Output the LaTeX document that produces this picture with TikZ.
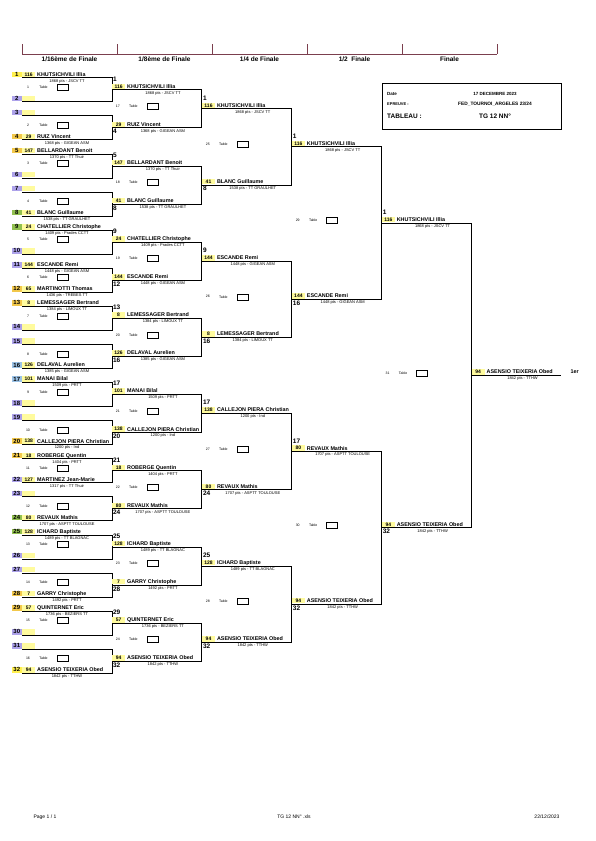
\documentclass[tikz,border=0pt]{standalone}
\usepackage{fontspec}
\setmainfont{Liberation Sans}
\usetikzlibrary{calc,positioning}
\definecolor{seedyellow}{HTML}{FFF04F}
\definecolor{seedviolet}{HTML}{ADA2EA}
\definecolor{seedgold}{HTML}{F2C84B}
\definecolor{seedgreen}{HTML}{92C050}
\definecolor{seedblue}{HTML}{9BC2E6}
\definecolor{ratefill}{HTML}{FFFB9E}
\definecolor{hdrline}{HTML}{7B3F4E}

\begin{document}
\begin{tikzpicture}[x=1pt, y=-1pt,
  bline/.style={line width=0.75pt, black},
  seedbox/.style={fill=#1, minimum width=10pt, minimum height=5.6pt, inner sep=0pt, anchor=south east, yshift=0.4pt, font=\fontsize{6}{6}\selectfont\bfseries},
  ratebox/.style={fill=ratefill, minimum width=13pt, minimum height=5.6pt, inner sep=0pt, anchor=south west, yshift=0.4pt, font=\fontsize{5}{5}\selectfont\bfseries},
  pname/.style={anchor=base west, inner sep=0pt, font=\fontsize{5.4}{5.4}\selectfont\bfseries},
  ppts/.style={anchor=base, inner sep=0pt, font=\fontsize{4}{4}\selectfont},
  slotno/.style={anchor=west, inner sep=0pt, font=\fontsize{6.5}{6.5}\selectfont\bfseries},
  tabtxt/.style={inner sep=0pt, font=\fontsize{3.5}{3.5}\selectfont},
  tabbox/.style={draw, line width=0.5pt, minimum width=11pt, minimum height=6pt, inner sep=0pt},
  colhead/.style={inner sep=0pt, font=\fontsize{6.5}{6.5}\selectfont\bfseries},
  infotxt/.style={inner sep=0pt, font=\fontsize{#1}{#1}\selectfont\bfseries},
  foot/.style={inner sep=0pt, font=\fontsize{5}{5}\selectfont}
]
  \fill[white] (0,0) rectangle (595,841);
  \useasboundingbox (0,0) rectangle (595,841);

  % column headings
  \draw[hdrline, line width=0.6pt] (22,54) -- (497,54);
  \foreach \hx in {22,117,212,307,402,497}
    \draw[hdrline, line width=0.6pt] (\hx,44) -- (\hx,54);
  \foreach \m/\lbl in {0/{1/16ème de Finale},1/{1/8ème de Finale},2/{1/4 de Finale},3/{1/2\ \ Finale},4/Finale}
    \node[colhead] (head\m) at (69.5+95*\m,59) {\lbl};

  % bracket coordinates
  \foreach \e in {0,...,31} {
    \pgfmathsetmacro\yy{77.7+38.1*int(\e/2)+24*mod(\e,2)}
    \coordinate (L1-\e) at (22,\yy);
    \coordinate (R1-\e) at (111.9,\yy);
  }
  \foreach \cc/\nn in {2/15,3/7,4/3,5/1,6/0} {
    \pgfmathtruncatemacro\pc{\cc-1}
    \foreach \e in {0,...,\nn} {
      \pgfmathtruncatemacro\ea{2*\e}
      \pgfmathtruncatemacro\eb{2*\e+1}
      \coordinate (L\cc-\e) at ($(R\pc-\ea)!.5!(R\pc-\eb)$);
      \coordinate (R\cc-\e) at ($(L\cc-\e)+(89.9,0)$);
    }
  }

  % bracket lines and tables
  \foreach \cc/\nn/\tf in {1/15/1,2/7/17,3/3/25,4/1/29,5/0/31} {
    \foreach \pa in {0,...,\nn} {
      \pgfmathtruncatemacro\ea{2*\pa}
      \pgfmathtruncatemacro\eb{2*\pa+1}
      \pgfmathtruncatemacro\tno{\tf+\pa}
      \draw[bline] (L\cc-\ea) -- (R\cc-\ea) -- (R\cc-\eb) -- (L\cc-\eb);
      \coordinate (T\cc-\pa) at ($(L\cc-\ea)!.5!(L\cc-\eb)+(0,-2.5)$);
      \node[tabtxt] (tn\cc-\pa) at ($(T\cc-\pa)+(6,0)$) {\tno};
      \node[tabtxt] (tl\cc-\pa) at ($(T\cc-\pa)+(21.5,0)$) {Table};
      \node[tabbox] (tb\cc-\pa) at ($(T\cc-\pa)+(40.5,0)$) {};
    }
  }
  \draw[bline] (L6-0) -- (R6-0);

  % 1/16 entries
  \foreach \e/\col/\rt/\nm/\pp in {
    0/seedyellow/116/KHUTSICHVILI Illia/1868 pts - JSCV TT,
    1/seedviolet/{}/{}/{},
    2/seedviolet/{}/{}/{},
    3/seedgold/29/RUIZ Vincent/1368 pts - GIGEAN ASM,
    4/seedgold/147/BELLARDANT Benoit/1370 pts - TT Thuir,
    5/seedviolet/{}/{}/{},
    6/seedviolet/{}/{}/{},
    7/seedgreen/41/BLANC Guillaume/1538 pts - TT GRAULHET,
    8/seedgreen/24/CHATELLIER Christophe/1409 pts - Prades CCTT,
    9/seedviolet/{}/{}/{},
    10/seedviolet/144/ESCANDE Remi/1448 pts - GIGEAN ASM,
    11/seedgold/65/MARTINOTTI Thomas/1436 pts - TREBES TT,
    12/seedgold/8/LEMESSAGER Bertrand/1384 pts - LIMOUX TT,
    13/seedviolet/{}/{}/{},
    14/seedviolet/{}/{}/{},
    15/seedblue/126/DELAVAL Aurelien/1385 pts - GIGEAN ASM,
    16/seedblue/101/MANAI Bilal/1509 pts - PRTT,
    17/seedviolet/{}/{}/{},
    18/seedviolet/{}/{}/{},
    19/seedgold/138/CALLEJON PIERA Christian/1200 pts - Ind,
    20/seedgold/18/ROBERGE Quentin/1404 pts - PRTT,
    21/seedviolet/127/MARTINEZ Jean-Marie/1317 pts - TT Thuir,
    22/seedviolet/{}/{}/{},
    23/seedgreen/80/REVAUX Mathis/1707 pts - ASPTT TOULOUSE,
    24/seedgreen/128/ICHARD Baptiste/1489 pts - TT BLAGNAC,
    25/seedviolet/{}/{}/{},
    26/seedviolet/{}/{}/{},
    27/seedgold/7/GARRY Christophe/1492 pts - PRTT,
    28/seedgold/57/QUINTERNET Eric/1736 pts - BEZIERS TT,
    29/seedviolet/{}/{}/{},
    30/seedviolet/{}/{}/{},
    31/seedyellow/94/ASENSIO TEIXERIA Obed/1842 pts - TTHW} {
    \pgfmathtruncatemacro\sn{\e+1}
    \node[seedbox=\col] (s1-\e) at (L1-\e) {\sn};
    \node[ratebox] (r1-\e) at (L1-\e) {\rt};
    \node[pname] (n1-\e) at ($(L1-\e)+(15,-1.6)$) {\nm};
    \node[ppts] (p1-\e) at ($(L1-\e)+(45,4.3)$) {\pp};
  }

  % later rounds
  \foreach \cc/\e/\sl/\rt/\nm/\pp in {
    2/0/1/116/KHUTSICHVILI Illia/1868 pts - JSCV TT,
    2/1/4/29/RUIZ Vincent/1368 pts - GIGEAN ASM,
    2/2/5/147/BELLARDANT Benoit/1370 pts - TT Thuir,
    2/3/8/41/BLANC Guillaume/1538 pts - TT GRAULHET,
    2/4/9/24/CHATELLIER Christophe/1409 pts - Prades CCTT,
    2/5/12/144/ESCANDE Remi/1448 pts - GIGEAN ASM,
    2/6/13/8/LEMESSAGER Bertrand/1384 pts - LIMOUX TT,
    2/7/16/126/DELAVAL Aurelien/1385 pts - GIGEAN ASM,
    2/8/17/101/MANAI Bilal/1509 pts - PRTT,
    2/9/20/138/CALLEJON PIERA Christian/1200 pts - Ind,
    2/10/21/18/ROBERGE Quentin/1404 pts - PRTT,
    2/11/24/80/REVAUX Mathis/1707 pts - ASPTT TOULOUSE,
    2/12/25/128/ICHARD Baptiste/1489 pts - TT BLAGNAC,
    2/13/28/7/GARRY Christophe/1492 pts - PRTT,
    2/14/29/57/QUINTERNET Eric/1736 pts - BEZIERS TT,
    2/15/32/94/ASENSIO TEIXERIA Obed/1842 pts - TTHW,
    3/0/1/116/KHUTSICHVILI Illia/1868 pts - JSCV TT,
    3/1/8/41/BLANC Guillaume/1538 pts - TT GRAULHET,
    3/2/9/144/ESCANDE Remi/1448 pts - GIGEAN ASM,
    3/3/16/8/LEMESSAGER Bertrand/1384 pts - LIMOUX TT,
    3/4/17/138/CALLEJON PIERA Christian/1200 pts - Ind,
    3/5/24/80/REVAUX Mathis/1707 pts - ASPTT TOULOUSE,
    3/6/25/128/ICHARD Baptiste/1489 pts - TT BLAGNAC,
    3/7/32/94/ASENSIO TEIXERIA Obed/1842 pts - TTHW,
    4/0/1/116/KHUTSICHVILI Illia/1868 pts - JSCV TT,
    4/1/16/144/ESCANDE Remi/1448 pts - GIGEAN ASM,
    4/2/17/80/REVAUX Mathis/1707 pts - ASPTT TOULOUSE,
    4/3/32/94/ASENSIO TEIXERIA Obed/1842 pts - TTHW,
    5/0/1/116/KHUTSICHVILI Illia/1868 pts - JSCV TT,
    5/1/32/94/ASENSIO TEIXERIA Obed/1842 pts - TTHW} {
    \pgfmathsetmacro\sy{mod(\e,2)==0 ? -10.8 : 3.8}
    \node[slotno] (s\cc-\e) at ($(L\cc-\e)+(1,\sy)$) {\sl};
    \node[ratebox] (r\cc-\e) at (L\cc-\e) {\rt};
    \node[pname] (n\cc-\e) at ($(L\cc-\e)+(15,-1.6)$) {\nm};
    \node[ppts] (p\cc-\e) at ($(L\cc-\e)+(51,4.3)$) {\pp};
  }

  % winner
  \node[ratebox] (r6-0) at (L6-0) {94};
  \node[pname] (n6-0) at ($(L6-0)+(15,-1.6)$) {ASENSIO TEIXERIA Obed};
  \node[ppts] (p6-0) at ($(L6-0)+(51,4.3)$) {1842 pts - TTHW};
  \node[pname] (first) at ($(R6-0)+(9,-1.6)$) {1er};

  % info box
  \node[draw, line width=0.8pt, minimum width=179.3pt, minimum height=46pt, inner sep=0pt, anchor=north west] (infobox) at (381.7,83.3) {};
  \node[infotxt=4.5, anchor=west] (datelbl) at (387,94) {Date};
  \node[infotxt=4.5] (dateval) at (495,94) {17 DECEMBRE 2023};
  \node[infotxt=4, anchor=west] (eplbl) at (387,104.3) {EPREUVE :};
  \node[infotxt=4.8] (epval) at (495,104.3) {FED\_TOURNOI\_ARGELES 23/24};
  \node[infotxt=6.5, anchor=west] (tablbl) at (387,116) {TABLEAU :};
  \node[infotxt=6.5] (tabval) at (495,116) {TG 12 NN°};

  % footer
  \node[foot] (pagelbl) at (45,817) {Page 1 / 1};
  \node[foot] (filelbl) at (294,817) {TG 12 NN° .xls};
  \node[foot] (printdate) at (547,817) {22/12/2023};
\end{tikzpicture}
\end{document}
